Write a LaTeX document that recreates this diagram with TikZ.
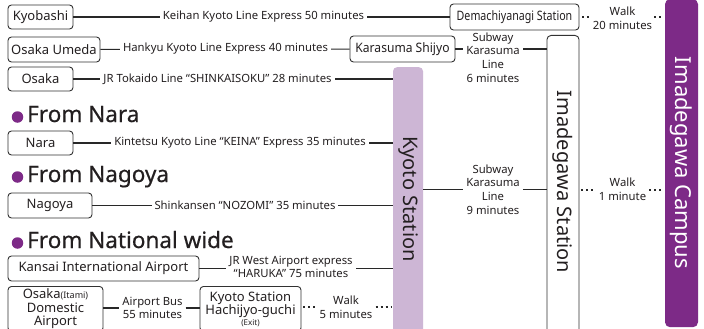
\documentclass[tikz,border=0pt]{standalone}
\usepackage{fontspec}
\setmainfont{Noto Sans}
\newfontfamily\headfont[FakeBold=0.5]{Noto Sans}
\definecolor{campus}{RGB}{125,42,135}
\definecolor{kyotoc}{RGB}{205,182,213}
\definecolor{txt}{RGB}{35,31,32}
\definecolor{linec}{RGB}{40,40,40}
\definecolor{boxc}{RGB}{50,50,50}
\begin{document}
\begin{tikzpicture}[x=1pt,y=-1pt,
  box/.style={draw=boxc, line width=0.9pt, rounded corners=3.5pt, fill=white, font=\fontsize{13}{13.5}\selectfont, inner sep=0pt, text=txt},
  lbl/.style={font=\fontsize{11.3}{13.6}\selectfont, fill=white, inner xsep=3pt, inner ysep=0pt, align=center, text=txt},
  wlk/.style={font=\fontsize{11.3}{13.6}\selectfont, inner sep=0pt, align=center, text=txt},
  conn/.style={draw=linec, line width=1.1pt},
  dots/.style={draw=linec, line width=2pt, dash pattern=on 2pt off 3pt},
  head/.style={font=\headfont\fontsize{22.5}{24}\selectfont, anchor=base west, inner sep=0pt, text=txt},
  bul/.style={circle, fill=campus, inner sep=0pt, minimum size=11.5pt},
  vtxt/.style={rotate=-90, font=\fontsize{20}{20}\selectfont, inner sep=0pt, text=txt},
]
\clip (0,0) rectangle (704,329);
\fill[white] (0,0) rectangle (704,329);

% tall boxes
\node[fill=kyotoc, rounded corners=4pt, minimum width=30pt, minimum height=280pt, anchor=north, inner sep=0pt] (kyoto) at (408,67) {};
\node[vtxt] (kyototxt) at (408,199) {Kyoto Station};
\node[draw=boxc, line width=0.9pt, fill=white, rounded corners=4pt, minimum width=32pt, minimum height=310pt, anchor=north, inner sep=0pt] (imast) at (563,35) {};
\node[vtxt] (imatxt) at (563,182) {Imadegawa Station};
\node[fill=campus, rounded corners=5pt, minimum width=33pt, minimum height=328pt, anchor=north, inner sep=0pt] (campus) at (681.5,-1) {};
\node[vtxt, text=white, font=\fontsize{22}{22}\selectfont] (camptxt) at (681.5,163) {Imadegawa Campus};

% Osaka / Kyoto rows
\node[box, minimum width=65pt, minimum height=24pt] (kyobashi) at (40.5,17) {Kyobashi};
\node[box, minimum width=129pt, minimum height=26pt] (demachi) at (514.5,17) {\scalebox{0.82}[1]{Demachiyanagi Station}};
\node[box, minimum width=92pt, minimum height=25pt] (umeda) at (54,49.5) {Osaka Umeda};
\node[box, minimum width=105pt, minimum height=26pt] (shijyo) at (402.5,49) {\scalebox{0.93}[1]{Karasuma Shijyo}};
\node[box, minimum width=65pt, minimum height=24pt] (osaka) at (40.5,79) {Osaka};

\draw[conn] (kyobashi) -- (demachi);
\draw[conn] (umeda) -- (shijyo);
\draw[conn] (shijyo) -- (shijyo -| imast.west);
\draw[conn] (osaka) -- (osaka -| kyoto.west);

\node[lbl] (keihan) at (263.5,17) {Keihan Kyoto Line Express 50 minutes};
\node[lbl] (hankyu) at (225.5,49) {Hankyu Kyoto Line Express 40 minutes};
\node[lbl] (tokaido) at (217.5,79) {JR Tokaido Line “SHINKAISOKU” 28 minutes};
\node[lbl] (sub6) at (493,57.5) {Subway\\Karasuma\\Line\\6 minutes};

\node[wlk] (walk20) at (622.5,18) {Walk\\20 minutes};
\draw[dots, shorten <=3pt, shorten >=1pt] (demachi.east) -- (demachi.east -| walk20.west);
\draw[dots, shorten <=2pt, shorten >=2pt] (walk20.east |- demachi.east) -- (demachi.east -| campus.west);

% Nara
\node[bul] (b1) at (17.5,117) {};
\node[head] (h1) at (27,122) {From Nara};
\node[box, minimum width=65pt, minimum height=24pt] (nara) at (40.5,143) {Nara};
\draw[conn] (nara) -- (nara -| kyoto.west);
\node[lbl] (kintetsu) at (240,143) {Kintetsu Kyoto Line “KEINA” Express 35 minutes};

% Nagoya
\node[bul] (b2) at (17.5,177) {};
\node[head] (h2) at (27,182) {From Nagoya};
\node[box, minimum width=84pt, minimum height=25pt] (nagoya) at (50,205.5) {Nagoya};
\draw[conn] (nagoya) -- (nagoya -| kyoto.west);
\node[lbl] (shinkansen) at (245,205.5) {Shinkansen “NOZOMI” 35 minutes};

% Kyoto -> Imadegawa
\node[lbl] (sub9) at (493,189.5) {Subway\\Karasuma\\Line\\9 minutes};
\draw[conn] (sub9 -| kyoto.east) -- (sub9.west);
\draw[conn] (sub9.east) -- (sub9 -| imast.west);
\node[wlk] (walk1) at (622.5,189.5) {Walk\\1 minute};
\draw[dots, shorten <=2pt, shorten >=3pt] (walk1 -| imast.east) -- (walk1.west);
\draw[dots, shorten <=3pt, shorten >=2pt] (walk1.east) -- (walk1 -| campus.west);

% National wide
\node[bul] (b3) at (17.5,243) {};
\node[head] (h3) at (27,248) {From National wide};
\node[box, minimum width=191pt, minimum height=25pt] (kansai) at (103.5,268.5) {Kansai International Airport};
\draw[conn] (kansai) -- (kansai -| kyoto.west);
\node[lbl] (haruka) at (291,267) {JR West Airport express\\“HARUKA” 75 minutes};

\node[box, anchor=north, minimum width=95pt, minimum height=45pt, align=center] (itami) at (55.5,286) {Osaka{\fontsize{9}{9}\selectfont(Itami)}\\Domestic\\Airport};
\node[box, anchor=north, minimum width=101pt, minimum height=45pt, align=center] (hachi) at (250.5,286) {Kyoto Station\\Hachijyo-guchi\\[-3pt]{\fontsize{8}{8}\selectfont(Exit)}};
\node[lbl] (bus) at (152.5,308) {Airport Bus\\55 minutes};
\draw[conn] (bus -| itami.east) -- (bus.west);
\draw[conn] (bus.east) -- (bus -| hachi.west);
\node[wlk] (walk5) at (346,307) {Walk\\5 minutes};
\draw[dots, shorten <=2pt, shorten >=3pt] (walk5 -| hachi.east) -- (walk5.west);
\draw[dots, shorten <=3pt, shorten >=2pt] (walk5.east) -- (walk5 -| kyoto.west);
\end{tikzpicture}
\end{document}
